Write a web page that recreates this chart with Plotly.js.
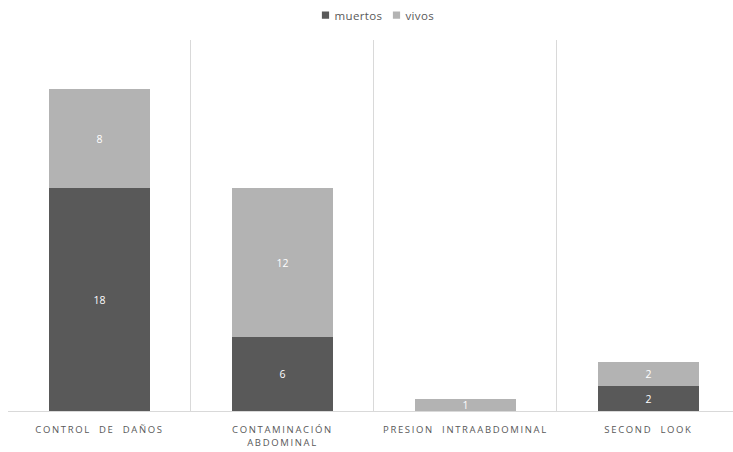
<!DOCTYPE html>
<html>
<head>
<meta charset="utf-8">
<script src="https://cdn.plot.ly/plotly-3.0.1.min.js"></script>
<style>
  html, body { margin: 0; padding: 0; background: #fff; }
  #chart { width: 733px; height: 452px; }
  .xtick text { letter-spacing: 1.65px; }
  .legendtext { letter-spacing: 0.35px; }
  /* smaller legend swatches, placed close to their labels */
  .legendpoints path { transform: translate(31px, 0px) scale(0.6); }
</style>
</head>
<body>
<div id="chart"></div>
<script>
// Categories along the x axis
const categories = [
  "CONTROL  DE  DAÑOS",
  "CONTAMINACIÓN<br>ABDOMINAL",
  "PRESION  INTRAABDOMINAL",
  "SECOND  LOOK"
];

// Stacked series
const muertos = [18, 6, 0, 2];
const vivos = [8, 12, 1, 2];

const labelFont = { family: "Open Sans, sans-serif", size: 10.5, color: "#ffffff" };

const traces = [
  {
    type: "bar",
    name: "muertos",
    x: categories,
    y: muertos,
    marker: { color: "#595959" },
    text: muertos.map(String),
    textposition: "inside",
    insidetextanchor: "middle",
    constraintext: "none",
    textangle: 0,
    textfont: labelFont,
    hoverinfo: "x+y+name"
  },
  {
    type: "bar",
    name: "vivos",
    x: categories,
    y: vivos,
    marker: { color: "#b3b3b3" },
    text: vivos.map(String),
    textposition: "inside",
    insidetextanchor: "middle",
    constraintext: "none",
    textangle: 0,
    textfont: labelFont,
    hoverinfo: "x+y+name"
  }
];

const layout = {
  width: 733,
  height: 452,
  margin: { l: 8, r: 0, t: 40, b: 41 },
  paper_bgcolor: "#ffffff",
  plot_bgcolor: "#ffffff",
  barmode: "stack",
  bargap: 0.443,
  font: { family: "Open Sans, sans-serif", color: "#595959" },
  showlegend: true,
  legend: {
    orientation: "h",
    x: 0.4931,
    xanchor: "center",
    y: 1.067,
    yanchor: "middle",
    entrywidth: 26,
    entrywidthmode: "pixels",
    font: { size: 11.5, color: "#595959" },
    traceorder: "normal",
    itemclick: false
  },
  xaxis: {
    type: "category",
    range: [-0.5, 3.462],
    tickson: "boundaries",
    showgrid: true,
    gridcolor: "#d9d9d9",
    gridwidth: 1,
    showline: true,
    linecolor: "#d9d9d9",
    linewidth: 1,
    ticks: "",
    ticklabelstandoff: 10,
    tickfont: { size: 9.5, color: "#595959" },
    fixedrange: true
  },
  yaxis: {
    range: [0, 30],
    showgrid: false,
    zeroline: false,
    showticklabels: false,
    showline: false,
    fixedrange: true
  }
};

Plotly.newPlot("chart", traces, layout, { displayModeBar: false, staticPlot: true });
</script>
</body>
</html>
